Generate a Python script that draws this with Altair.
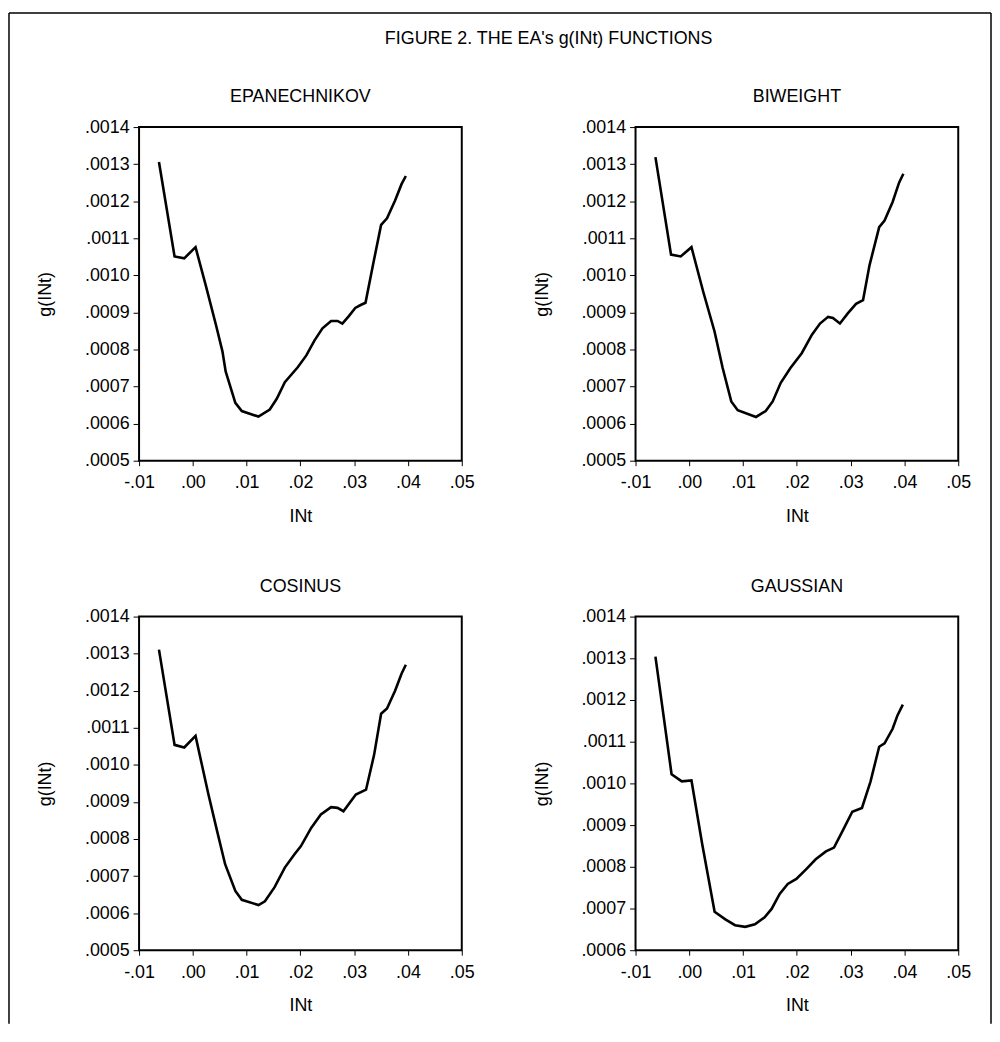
import altair as alt
import pandas as pd

FIG_TITLE = "FIGURE 2. THE EA's g(INt) FUNCTIONS"
PANEL_NAMES = ["EPANECHNIKOV", "BIWEIGHT", "COSINUS", "GAUSSIAN"]
X_TITLE = "INt"
Y_TITLE = "g(INt)"
X_TICKS = [-0.01, 0.0, 0.01, 0.02, 0.03, 0.04, 0.05]
Y_TICKS_A = [0.0005, 0.0006, 0.0007, 0.0008, 0.0009, 0.0010, 0.0011, 0.0012, 0.0013, 0.0014]
Y_TICKS_G = [0.0006, 0.0007, 0.0008, 0.0009, 0.0010, 0.0011, 0.0012, 0.0013, 0.0014]

ep_x = [-0.0063, -0.0034, -0.0016, 0.0005, 0.0024, 0.0043, 0.0055, 0.0061, 0.0079, 0.0091,
        0.0122, 0.0143, 0.0156, 0.0171, 0.0195, 0.0211, 0.0226, 0.0241, 0.0257, 0.0269,
        0.0278, 0.0290, 0.0302, 0.0312, 0.0321, 0.0336, 0.0350, 0.0361, 0.0376, 0.0388, 0.0396]
ep_y = [0.001306, 0.001051, 0.001046, 0.001076, 0.000973, 0.000866, 0.000795, 0.000741, 0.000656, 0.000634,
        0.000619, 0.000638, 0.000667, 0.000712, 0.000752, 0.000784, 0.000824, 0.000857, 0.000877, 0.000877,
        0.000870, 0.000890, 0.000912, 0.000920, 0.000926, 0.001036, 0.001136, 0.001154, 0.001202, 0.001246, 0.001268]

bw_x = [-0.0063, -0.0034, -0.0016, 0.0004, 0.0026, 0.0047, 0.0062, 0.0078, 0.0090, 0.0124,
        0.0142, 0.0155, 0.0170, 0.0188, 0.0209, 0.0228, 0.0243, 0.0258, 0.0267, 0.0280,
        0.0295, 0.0310, 0.0323, 0.0335, 0.0353, 0.0363, 0.0378, 0.0390, 0.0398]
bw_y = [0.001319, 0.001056, 0.001051, 0.001076, 0.000955, 0.000848, 0.000750, 0.000660, 0.000636, 0.000618,
        0.000634, 0.000660, 0.000710, 0.000750, 0.000790, 0.000840, 0.000870, 0.000888, 0.000885, 0.000870,
        0.000898, 0.000923, 0.000933, 0.001027, 0.001130, 0.001148, 0.001198, 0.001250, 0.001274]

co_x = [-0.0063, -0.0034, -0.0016, 0.0005, 0.0029, 0.0045, 0.0060, 0.0079, 0.0091, 0.0122,
        0.0134, 0.0152, 0.0171, 0.0189, 0.0201, 0.0220, 0.0238, 0.0257, 0.0269, 0.0280,
        0.0303, 0.0322, 0.0337, 0.0350, 0.0361, 0.0376, 0.0388, 0.0396]
co_y = [0.001311, 0.001054, 0.001047, 0.001078, 0.000920, 0.000822, 0.000732, 0.000660, 0.000636, 0.000622,
        0.000632, 0.000670, 0.000723, 0.000759, 0.000781, 0.000830, 0.000866, 0.000886, 0.000884, 0.000875,
        0.000920, 0.000933, 0.001027, 0.001138, 0.001152, 0.001200, 0.001246, 0.001270]

ga_x = [-0.0063, -0.0033, -0.0014, 0.0004, 0.0024, 0.0047, 0.0067, 0.0085, 0.0104, 0.0122,
        0.0140, 0.0153, 0.0168, 0.0183, 0.0199, 0.0217, 0.0235, 0.0254, 0.0269, 0.0285,
        0.0303, 0.0321, 0.0337, 0.0353, 0.0363, 0.0378, 0.0387, 0.0397]
ga_y = [0.001304, 0.001022, 0.001005, 0.001007, 0.000854, 0.000692, 0.000674, 0.000660, 0.000656, 0.000662,
        0.000679, 0.000699, 0.000735, 0.000759, 0.000771, 0.000794, 0.000818, 0.000837, 0.000846, 0.000886,
        0.000932, 0.000941, 0.001005, 0.001088, 0.001096, 0.001131, 0.001163, 0.001189]

FONT = "Liberation Sans"
FS = 18
PW = 325
PH_TOP, PH_BOT = 336, 336
GAP_X = 175      # between the two plot frames of a row
GAP_Y = 157      # between the two plot frames of a column

# The figure frame and title live in a tiny 5th cell (row 3); offsets below are
# relative to that cell, whose origin lies below the first plot's top by:
ORIGIN3 = PH_TOP + GAP_Y + PH_BOT + GAP_Y
FRAME_L, FRAME_R = -131, 858
FRAME_T, FRAME_B = -115 - ORIGIN3, 903 - ORIGIN3
TITLE_X, TITLE_Y = (2 * PW + GAP_X) / 2, -89 - ORIGIN3

X_LABEL = "replace(replace(format(datum.value, '.2f'), '\u2212', '-'), '0.', '.')"
Y_LABEL = "replace(format(datum.value, '.4f'), '0.', '.')"


def panel(name, xs, ys, yticks, ph):
    df = pd.DataFrame({"x": xs, "y": ys})
    return (
        alt.Chart(df, title=alt.TitleParams(name, fontSize=FS, font=FONT, fontWeight="normal",
                                            color="black", anchor="middle", frame="group", offset=12))
        .mark_line(color="black", strokeWidth=2.6)
        .encode(
            x=alt.X("x:Q",
                    scale=alt.Scale(domain=[X_TICKS[0], X_TICKS[-1]], nice=False, zero=False),
                    axis=alt.Axis(values=X_TICKS, title=X_TITLE, grid=False, domain=False,
                                  labelExpr=X_LABEL,
                                  tickSize=5, tickColor="black", labelPadding=8, titlePadding=16,
                                  labelFont=FONT, titleFont=FONT, labelFontSize=FS, titleFontSize=FS,
                                  labelColor="black", titleColor="black", titleFontWeight="normal",
                                  labelFlush=False, labelOverlap=False)),
            y=alt.Y("y:Q",
                    scale=alt.Scale(domain=[yticks[0], yticks[-1]], nice=False, zero=False),
                    axis=alt.Axis(values=yticks, title=Y_TITLE, grid=False, domain=False,
                                  labelExpr=Y_LABEL,
                                  tickSize=6, tickColor="black", labelPadding=4, titlePadding=30,
                                  labelFont=FONT, titleFont=FONT, labelFontSize=FS, titleFontSize=FS,
                                  labelColor="black", titleColor="black", titleFontWeight="normal",
                                  labelFlush=False, labelOverlap=False)),
        )
        .properties(width=PW, height=ph,
                    view=alt.ViewBackground(stroke="black", strokeWidth=2))
    )


p1 = panel(PANEL_NAMES[0], ep_x, ep_y, Y_TICKS_A, PH_TOP)
p2 = panel(PANEL_NAMES[1], bw_x, bw_y, Y_TICKS_A, PH_TOP)
p3 = panel(PANEL_NAMES[2], co_x, co_y, Y_TICKS_A, PH_BOT)
p4 = panel(PANEL_NAMES[3], ga_x, ga_y, Y_TICKS_G, PH_BOT)

one = pd.DataFrame({"a": [0]})
rule = alt.Chart(one).mark_rule(color="black", strokeWidth=1.5)
frame = alt.layer(
    rule.encode(x=alt.value(FRAME_L), x2=alt.value(FRAME_R), y=alt.value(FRAME_T)),
    rule.encode(x=alt.value(FRAME_L), y=alt.value(FRAME_T), y2=alt.value(FRAME_B)),
    rule.encode(x=alt.value(FRAME_R), y=alt.value(FRAME_T), y2=alt.value(FRAME_B)),
    alt.Chart(one).mark_text(font=FONT, fontSize=FS, color="black", align="center", baseline="middle")
    .encode(x=alt.value(TITLE_X), y=alt.value(TITLE_Y), text=alt.value(FIG_TITLE)),
).properties(width=1, height=1, view=alt.ViewBackground(strokeWidth=0))

chart = (
    alt.concat(p1, p2, p3, p4, frame, columns=2, bounds="flush",
               spacing={"row": GAP_Y, "column": GAP_X})
    .configure_view(strokeWidth=0)
    .configure(background="white", padding=0)
)

chart.save("out.html", embed_options={"renderer": "svg", "actions": False})
